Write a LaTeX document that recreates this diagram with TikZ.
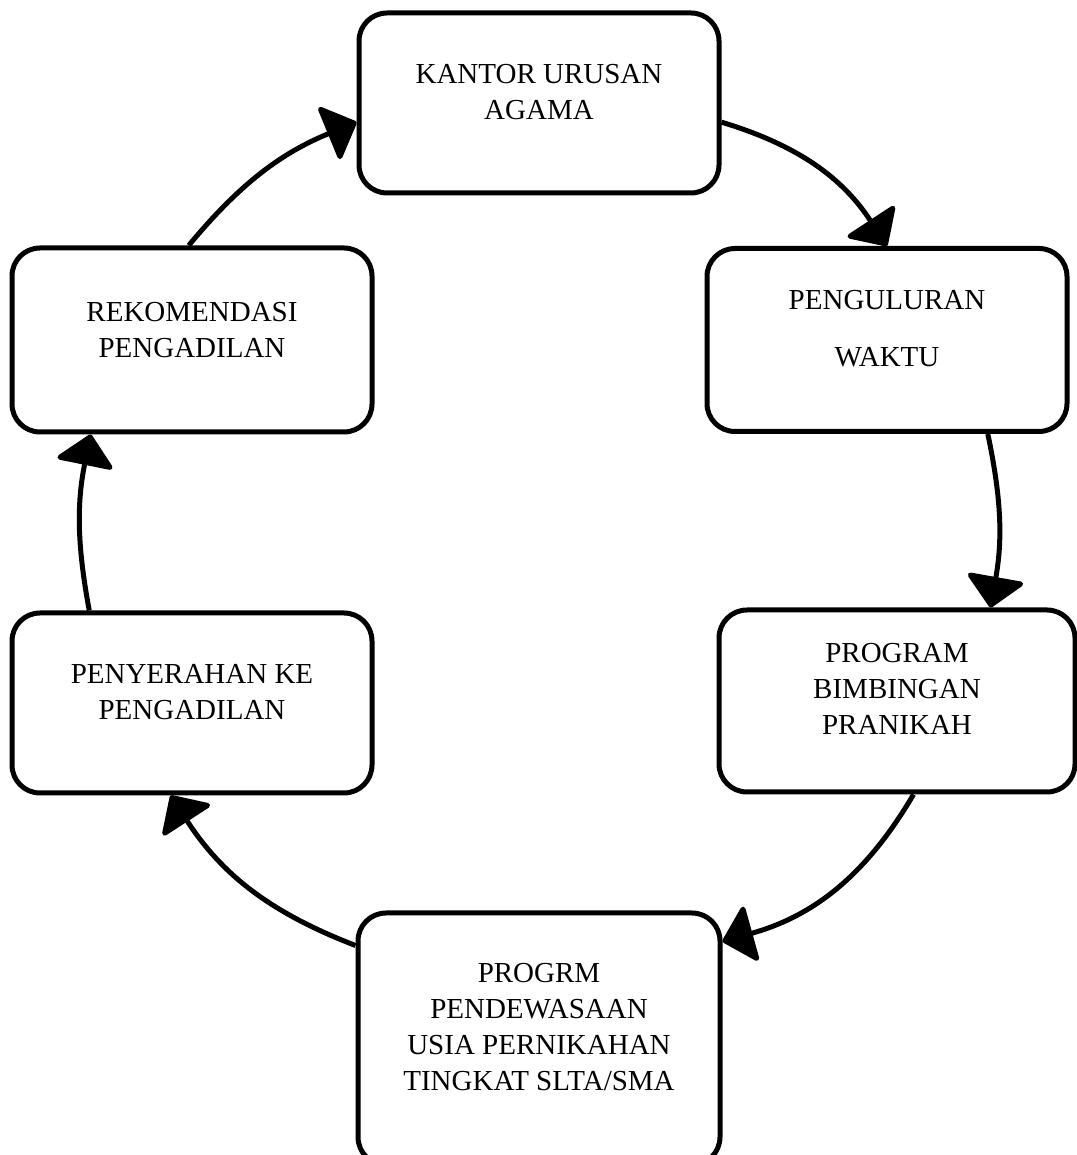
\documentclass[tikz,border=0pt]{standalone}
\usepackage{fontspec}
\setmainfont{Liberation Serif}
\usetikzlibrary{arrows.meta}

\begin{document}
\begin{tikzpicture}[x=0.5pt,y=0.5pt,
    kotak/.style={draw,line width=2.5pt,rounded corners=14pt,minimum width=180pt,minimum height=90pt},
    teks/.style={align=center,font=\fontsize{14.5}{18}\selectfont},
    panah/.style={line width=2.5pt,-{Triangle[length=16pt,width=31pt,round]}}]

    \useasboundingbox (0,0) rectangle (1076,1155);

    \node[kotak] (kua) at (539,1052) {};
    \node[kotak,minimum height=91.5pt] (waktu) at (887,815) {};
    \node[kotak,minimum width=178pt,minimum height=91pt] (bimbingan) at (897,454) {};
    \node[kotak,minimum width=181pt,minimum height=126pt] (pup) at (539,116) {};
    \node[kotak] (serah) at (192,452) {};
    \node[kotak,minimum height=92pt] (rekom) at (192,815) {};

    \node[teks] (kuatxt) at (539,1063) {KANTOR URUSAN\\AGAMA};
    \node[teks] (waktutxt) at (887,826) {PENGULURAN\\[10.5pt]WAKTU};
    \node[teks] (bimbtxt) at (897,466) {PROGRAM\\BIMBINGAN\\PRANIKAH};
    \node[teks] (puptxt) at (539,128) {PROGRM\\PENDEWASAAN\\USIA PERNIKAHAN\\TINGKAT SLTA/SMA};
    \node[teks] (serahtxt) at (192,463) {PENYERAHAN KE\\PENGADILAN};
    \node[teks] (rekomtxt) at (192,825) {REKOMENDASI\\PENGADILAN};

    \draw[panah] (kua.-6) to[bend left=20] (waktu.north);
    \draw[panah] (waktu.-43) to[bend left=11] (bimbingan.45);
    \draw[panah] (bimbingan.-80) to[bend left=22] (pup.28);
    \draw[panah] (pup.153) to[bend left=18] (serah.-103);
    \draw[panah] (serah.138) to[bend left=11] (rekom.-137);
    \draw[panah] (rekom.92) to[bend left=14] (kua.186);
\end{tikzpicture}
\end{document}
